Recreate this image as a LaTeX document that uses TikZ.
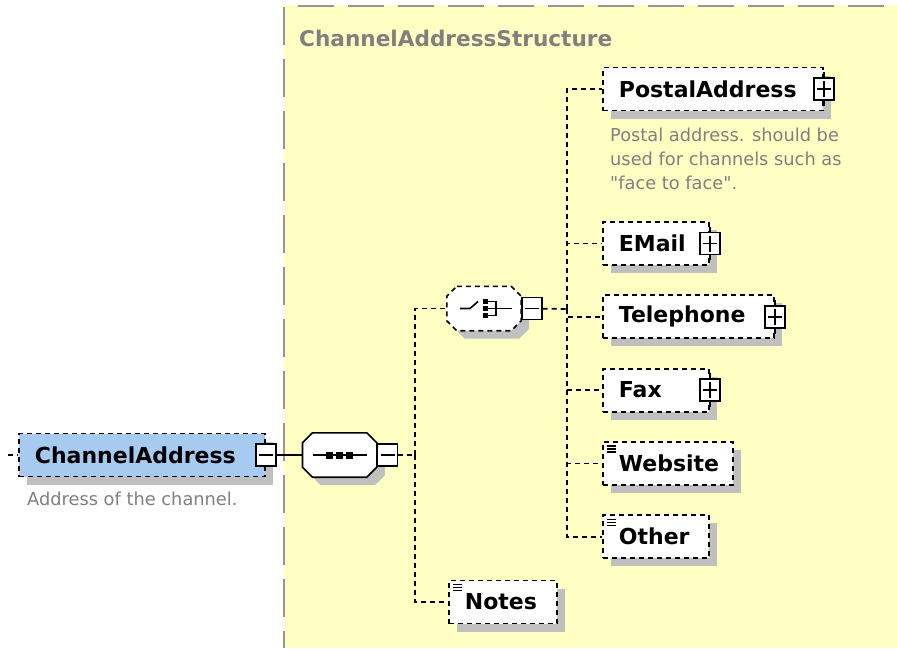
\documentclass[tikz,border=0pt]{standalone}
\usepackage{fontspec}
\setmainfont{DejaVu Sans}[Ligatures=TeXOff]
\usetikzlibrary{positioning,shadows}

\definecolor{typebg}{RGB}{255,255,196}
\definecolor{typeline}{RGB}{150,150,150}
\definecolor{rootblue}{RGB}{166,202,240}
\definecolor{shade}{RGB}{192,192,192}
\definecolor{doctext}{RGB}{128,128,128}

% octagon outline of a compositor node
\newcommand{\octpath}[1]{([xshift=10pt]#1.north west) -- ([xshift=-10pt]#1.north east) -- ([yshift=-10pt]#1.north east) -- ([yshift=10pt]#1.south east) -- ([xshift=-10pt]#1.south east) -- ([xshift=10pt]#1.south west) -- ([yshift=10pt]#1.south west) -- ([yshift=-10pt]#1.north west) -- cycle}

\begin{document}
\begin{tikzpicture}[x=1pt, y=-1pt, node distance=28.5pt]
\tikzstyle{elem} = [rectangle, draw = black, line width=1.8pt, dash pattern=on 5pt off 4pt, fill=white, minimum height=43pt, inner xsep=16pt, inner ysep=0pt, align=left, font=\bfseries\fontsize{22}{26}\selectfont, drop shadow={shadow xshift=8pt, shadow yshift=-8pt, fill=shade, opacity=1}]
\tikzstyle{compositor} = [rectangle, minimum width=74pt, minimum height=44pt, inner sep=0pt]
\tikzstyle{octline} = [draw = black, line width=1.6pt, fill=white, drop shadow={shadow xshift=8pt, shadow yshift=-8pt, fill=shade, opacity=1}]
\tikzstyle{minusbox} = [rectangle, draw = black, line width=1.4pt, fill=white, minimum width=20pt, minimum height=22pt, inner sep=0pt, path picture={\draw [line width=1.4pt] ([xshift=3pt]path picture bounding box.west) -- ([xshift=-3pt]path picture bounding box.east);}]
\tikzstyle{plusbox} = [minusbox, path picture={\draw [line width=1.4pt] ([xshift=3pt]path picture bounding box.west) -- ([xshift=-3pt]path picture bounding box.east) ([yshift=-3pt]path picture bounding box.north) -- ([yshift=3pt]path picture bounding box.south);}]
\tikzstyle{doc} = [inner sep=0pt, align=left, text=doctext, font=\fontsize{17.8}{24}\selectfont]
\tikzstyle{conn} = [line width=1.8pt, dash pattern=on 5pt off 4pt]
\useasboundingbox (0,0) rectangle (897,648);

% complex type area
\fill [typebg] (284,5) rectangle (897,648);
\draw [typeline, line width=2pt, dash pattern=on 38pt off 14pt] (284,7) -- (284,648);
\draw [typeline, line width=2pt, dash pattern=on 36pt off 14pt] (298,6) -- (897,6);
\node (title) [anchor=west, inner sep=0pt, text=doctext, font=\bfseries\fontsize{21.6}{25}\selectfont] at (299,38) {ChannelAddressStructure};

% root element
\node (chan) [elem, fill=rootblue, text width=214pt, anchor=west] at (18,455) {ChannelAddress};
\node (chanminus) [minusbox] at (chan.east) {};
\node (chandoc) [doc, below right = 14pt and 9pt of chan.south west] {Address of the channel.};

% compositors
\node (seq) [compositor, right = 26pt of chanminus] {};
\draw [octline] \octpath{seq};
\node (seqminus) [minusbox, anchor=west] at (seq.east) {};
\draw [line width=1.6pt] ([xshift=-27pt]seq.center) -- ([xshift=27pt]seq.center);
\foreach \dx in {-10,0,10}
  \fill ([xshift=\dx pt]seq.center) ++(-3.5,-3.5) rectangle ++(7,7);
\coordinate (seqfork) at (415,455);

\node (choice) [compositor] at (484,308.5) {};
\draw [octline, dash pattern=on 5pt off 4pt] \octpath{choice};
\node (choiceminus) [minusbox, anchor=west] at (choice.east) {};
\begin{scope}[shift={(choice.center)}, line width=1.6pt]
\draw (-24,0) -- (-14,0) -- (-6,-7);
\foreach \dy in {-7,0,7}
  \fill (1.5,\dy) ++(-2.5,-2.5) rectangle ++(5,5);
\draw (4,-7) -- (12,-7) -- (12,7) -- (4,7);
\draw (4,0) -- (28,0);
\end{scope}
\coordinate (choicefork) at (567,309);

% child elements
\node (notes) [elem, text width=76pt, anchor=west] at (448,602) {Notes};
\node (postal) [elem, text width=188pt, anchor=west] at (602,89) {PostalAddress};
\node (postaldoc) [doc, below right = 16pt and 8pt of postal.south west] {Postal address. should be\\used for channels such as\\"face to face".};
\node (email) [elem, text width=74pt, anchor=west] at (602,243.5) {EMail};
\node (tel) [elem, text width=139pt, below = of email.south west, anchor=north west] {Telephone};
\node (fax) [elem, text width=74pt, below = of tel.south west, anchor=north west] {Fax};
\node (web) [elem, text width=98pt, below = of fax.south west, anchor=north west] {Website};
\node (other) [elem, text width=74pt, below = of web.south west, anchor=north west] {Other};

\foreach \n in {postal,email,tel,fax} {
  \node (plus\n) [plusbox] at (\n.east) {};
  \draw [line width=1.4pt] (plus\n.north) -- ++(0,-5) (plus\n.south) -- ++(0,5);
}
\foreach \n in {web,other,notes}
  \foreach \k in {5,8,11}
    \draw [line width=1.4pt] ([xshift=5pt, yshift=-\k pt]\n.north west) -- ++(9,0);

% connectors
\coordinate (root) at (8,455);
\draw [conn] (root) -- (chan.west);
\draw [line width=1.6pt] (chanminus) -- (seq);
\draw [conn] (seqminus) -- (seqfork);
\draw [conn] (seqfork) |- (choice.west);
\draw [conn] (seqfork) |- (notes.west);
\draw [conn] (choiceminus) -- (choicefork);
\foreach \n in {postal,email,tel,fax,web,other}
  \draw [conn] (choicefork) |- (\n.west);
\end{tikzpicture}
\end{document}
